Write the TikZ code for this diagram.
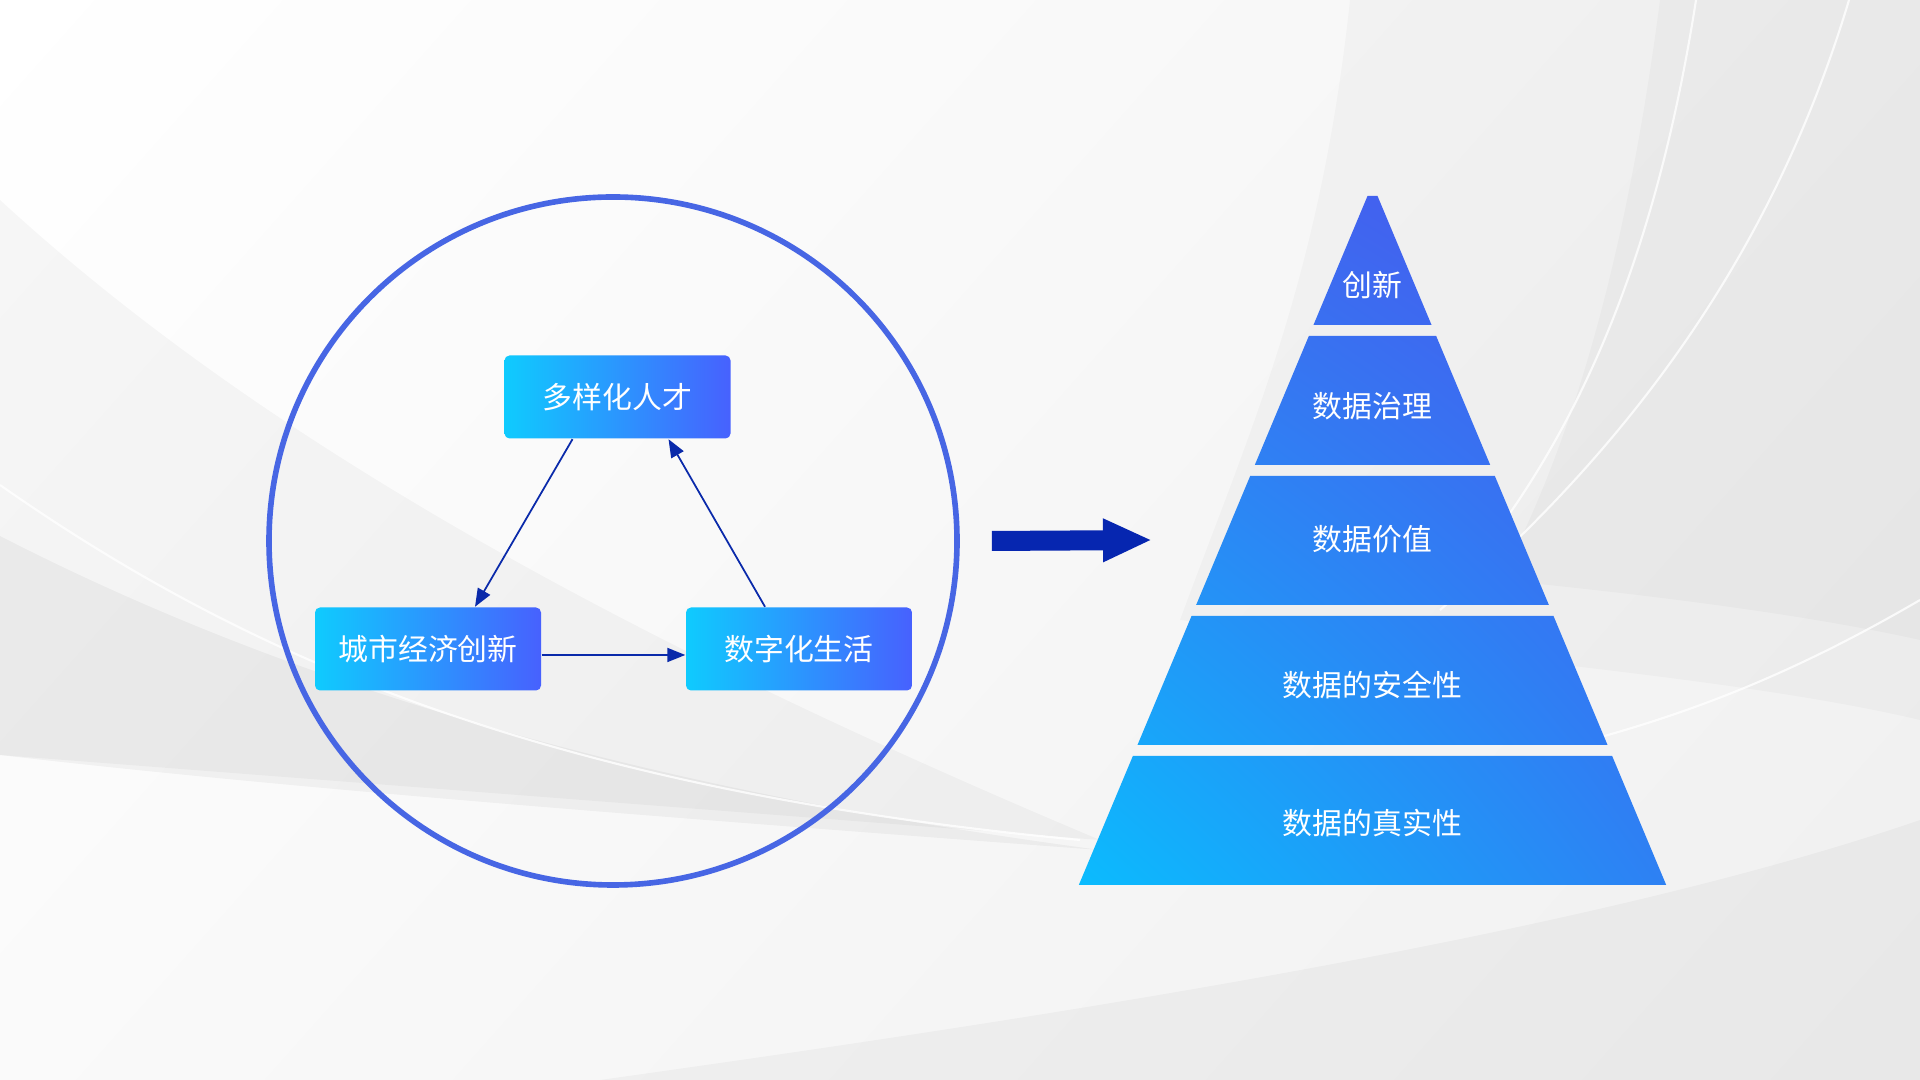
\documentclass[tikz,border=0pt]{standalone}
\usepackage{fontspec}
\setmainfont{Noto Sans CJK SC}
\usetikzlibrary{arrows.meta, positioning, calc, shadings}
\definecolor{boxcyan}{HTML}{0FCBFE}
\definecolor{boxblue}{HTML}{4761FE}
\definecolor{ringblue}{HTML}{4766E4}
\definecolor{linkblue}{HTML}{0A2AAA}
\definecolor{arrowblue}{HTML}{0626B0}
\definecolor{pyrlowleft}{HTML}{0ABDFE}
\definecolor{pyrlowright}{HTML}{2E80F3}
\definecolor{pyrupleft}{HTML}{3A70EF}
\definecolor{pyrupright}{HTML}{4B52EE}

\begin{document}
\begin{tikzpicture}[
  >={Triangle[length=1.8mm, width=1.4mm]},
  declare function={hw(\y)=0.05+0.419*(8.84-\y);},
  every node/.style={font=\fontsize{8.5}{10}\selectfont, text=white},
  topic/.style={rounded corners=0.5mm, left color=boxcyan, right color=boxblue,
    minimum width=22.6mm, minimum height=8.3mm, inner sep=0pt},
  link/.style={->, line width=0.5pt, linkblue},
  tier/.style={inner sep=0pt},
  bgline/.style={white, line width=0.6pt, opacity=0.8},
  bgband/.style={black, opacity=#1}
]
\useasboundingbox (0,0) rectangle (19.2,10.8);
% backdrop
\shade[upper left=white, upper right=black!4, lower left=black!2, lower right=black!6]
  (0,0) rectangle (19.2,10.8);
\fill[bgband=0.03] (0,8.8) .. controls (2.5,6.5) and (6,4.5) .. (11,2.4) -- (0,3.25) -- cycle;
\fill[bgband=0.04] (0,5.44) .. controls (3,3.9) and (6.5,2.9) .. (11,2.3)
  .. controls (7,2.6) and (3,2.9) .. (0,3.25) -- cycle;
\fill[bgband=0.03] (6,0) .. controls (11,0.7) and (16,1.5) .. (19.2,2.6) -- (19.2,0) -- cycle;
\fill[bgband=0.025] (13.5,10.8) .. controls (13.2,8) and (12.5,6.5) .. (11.8,4.6)
  .. controls (15,4.2) and (17.5,4) .. (19.2,3.6) -- (19.2,10.8) -- cycle;
\fill[bgband=0.025] (16.6,10.8) .. controls (16.3,8.5) and (15.8,6.5) .. (15,5)
  .. controls (17,4.8) and (18.3,4.6) .. (19.2,4.4) -- (19.2,10.8) -- cycle;
\draw[bgline] (0,5.95) .. controls (2.5,4.2) and (5.5,2.9) .. (10.8,2.4);
\draw[bgline] (16.96,10.8) .. controls (16.6,8.5) and (15.9,6.5) .. (14.5,4.9);
\draw[bgline] (18.49,10.8) .. controls (17.8,8.5) and (16.5,6.5) .. (14.4,4.7);
\draw[bgline] (19.2,4.8) .. controls (18,4.1) and (17,3.7) .. (15.9,3.4);

% left: cycle of three topics
\node[circle, draw=ringblue, line width=1.6pt, minimum size=68.8mm] (ring) at (6.13,5.39) {};
\node[topic] (talent) at (6.175,6.83) {多样化人才};
\node[topic] (econ)   at (4.28,4.31)  {城市经济创新};
\node[topic] (life)   at (7.99,4.31)  {数字化生活};
\draw[link] ([xshift=-4.5mm]talent.south) -- ([xshift=4.7mm]econ.north);
\draw[link] ([yshift=-0.6mm]econ.east) -- ([yshift=-0.6mm]life.west);
\draw[link] ([xshift=-3.4mm]life.north) -- ([xshift=5.1mm]talent.south);

% right: pyramid
\begin{scope}
  \clip \foreach \yt/\yb in {8.84/7.55, 7.44/6.15, 6.04/4.75, 4.64/3.35, 3.24/1.95} {
    ({13.725-hw(\yt)},\yt) -- ({13.725+hw(\yt)},\yt) -- ({13.725+hw(\yb)},\yb)
    -- ({13.725-hw(\yb)},\yb) -- cycle};
  \shade[lower left=pyrlowleft, lower right=pyrlowright, upper left=pyrupleft,
    upper right=pyrupright] (10.7,1.9) rectangle (16.75,8.9);
\end{scope}
\foreach \i/\ty/\txt in {1/7.95/创新, 2/6.74/数据治理, 3/5.41/数据价值,
                         4/3.95/数据的安全性, 5/2.57/数据的真实性}
  \node[tier] (tier\i) at (13.725,\ty) {\txt};

\coordinate (arrtip) at (11.52,5.40);
\draw[line width=2mm, arrowblue, -{Triangle[length=4.9mm, width=4mm]}]
  ([xshift=3.2mm]ring.east) -- (arrtip);
\end{tikzpicture}
\end{document}
